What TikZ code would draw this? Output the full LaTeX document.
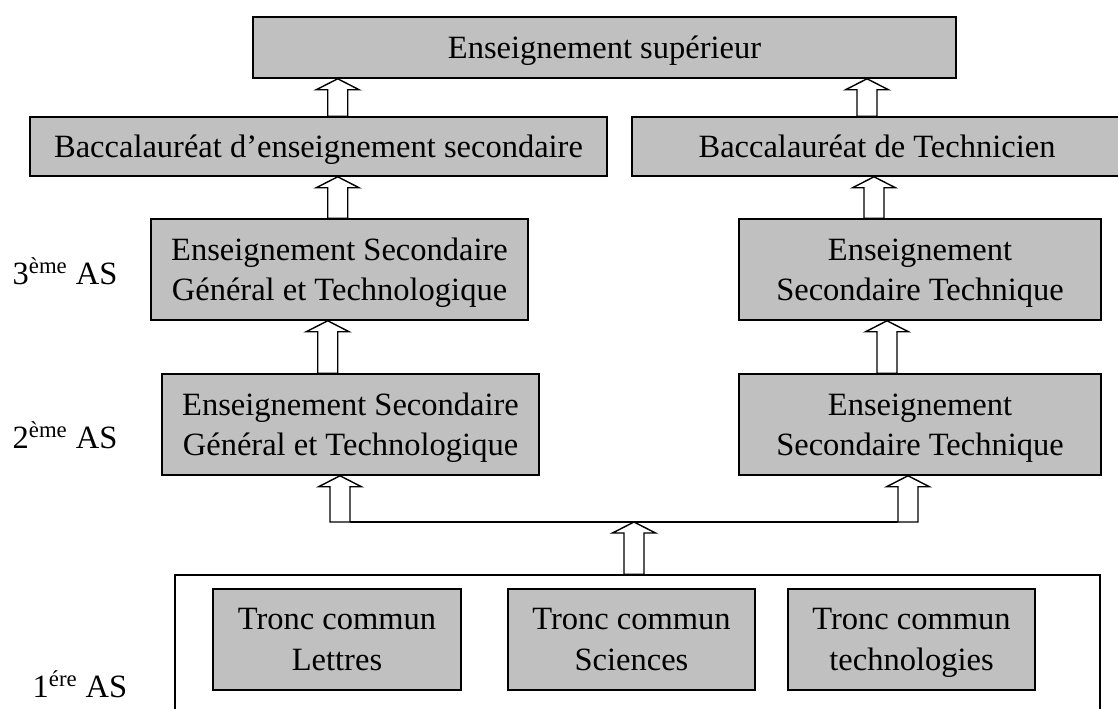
\documentclass[tikz,border=0pt]{standalone}
\usepackage{fontspec}
\setmainfont{Liberation Serif}
\usetikzlibrary{calc}
\definecolor{boxgray}{RGB}{192,192,192}

% hollow upward block arrow: x position, foot point, head point
\newcommand{\blockup}[3]{%
  \path (#1,0 |- #2) coordinate (foot) (#1,0 |- #3) coordinate (head);
  \draw[hollow] ($(foot)+(-10,0)$) -- ($(head)+(-10,-11)$) -- ++(-11.5,0) -- (head)
    -- ++(21.5,-11) -- ++(-11.5,0) -- ($(foot)+(10,0)$) -- cycle;}

\begin{document}
\begin{tikzpicture}[
      x=0.02cm, y=0.02cm,
      every node/.style={font=\fontsize{18.5}{23}\selectfont},
      block/.style ={rectangle, draw=black, line width=0.9pt, fill=boxgray, align=center, inner sep=0pt, text depth=0pt},
      frame/.style ={rectangle, draw=black, line width=0.9pt, inner sep=0pt},
      level/.style ={inner sep=0pt},
      hollow/.style={draw=black, line width=0.8pt, fill=white, line join=miter}
    ]
    \useasboundingbox (0,0) rectangle (1118,-709);

    % tertiary and baccalaureate
    \node [block, minimum width=14.06cm, minimum height=1.22cm] (sup)  at (604.5,-47.5) {Enseignement supérieur} ;
    \node [block, minimum width=11.54cm, minimum height=1.18cm] (bacG) at (318.5,-146.5) {Baccalauréat d’enseignement secondaire} ;
    \node [block, minimum width=9.80cm,  minimum height=1.18cm] (bacT) at (877,-146.5) {Baccalauréat de Technicien} ;

    % secondary years
    \node [block, minimum width=7.54cm, minimum height=2.02cm] (esg3) at (339.5,-269.5) {Enseignement Secondaire\\Général et Technologique} ;
    \node [block, minimum width=7.24cm, minimum height=2.02cm] (est3) at (920,-269.5) {Enseignement\\Secondaire Technique} ;
    \node [block, minimum width=7.54cm, minimum height=2.02cm] (esg2) at (350.5,-424.5) {Enseignement Secondaire\\Général et Technologique} ;
    \node [block, minimum width=7.24cm, minimum height=2.02cm] (est2) at (920,-424.5) {Enseignement\\Secondaire Technique} ;

    % common core
    \node [frame, minimum width=18.5cm, minimum height=2.8cm] (tronc) at (637.5,-645) {} ;
    \node [block, minimum width=4.96cm, minimum height=2.02cm] (lettres) at (337,-639.5) {Tronc commun\\Lettres} ;
    \node [block, minimum width=4.94cm, minimum height=2.02cm] (sciences) at (631.5,-639.5) {Tronc commun\\Sciences} ;
    \node [block, minimum width=4.94cm, minimum height=2.02cm] (techno) at (911.5,-639.5) {Tronc commun\\technologies} ;

    % year labels
    \node [level] (an3) at (65,-271) {3\textsuperscript{ème} AS} ;
    \node [level] (an2) at (65,-435) {2\textsuperscript{ème} AS} ;
    \node [level] (an1) at (80,-684) {1\textsuperscript{ére} AS} ;

    % arrows
    \blockup{337.7}{bacG.north}{sup.south}
    \blockup{867}{bacT.north}{sup.south}
    \blockup{337.7}{esg3.north}{bacG.south}
    \blockup{874}{est3.north}{bacT.south}
    \blockup{327.7}{esg2.north}{esg3.south}
    \blockup{887}{est2.north}{est3.south}

    \coordinate (busL) at (350,-522) ;
    \coordinate (busR) at (898,-522) ;
    \draw [line width=0.8pt] (busL) -- (busR) ;
    \blockup{340}{busL}{esg2.south}
    \blockup{908}{busR}{est2.south}
    \blockup{634}{tronc.north}{busL}
  \end{tikzpicture}
\end{document}
